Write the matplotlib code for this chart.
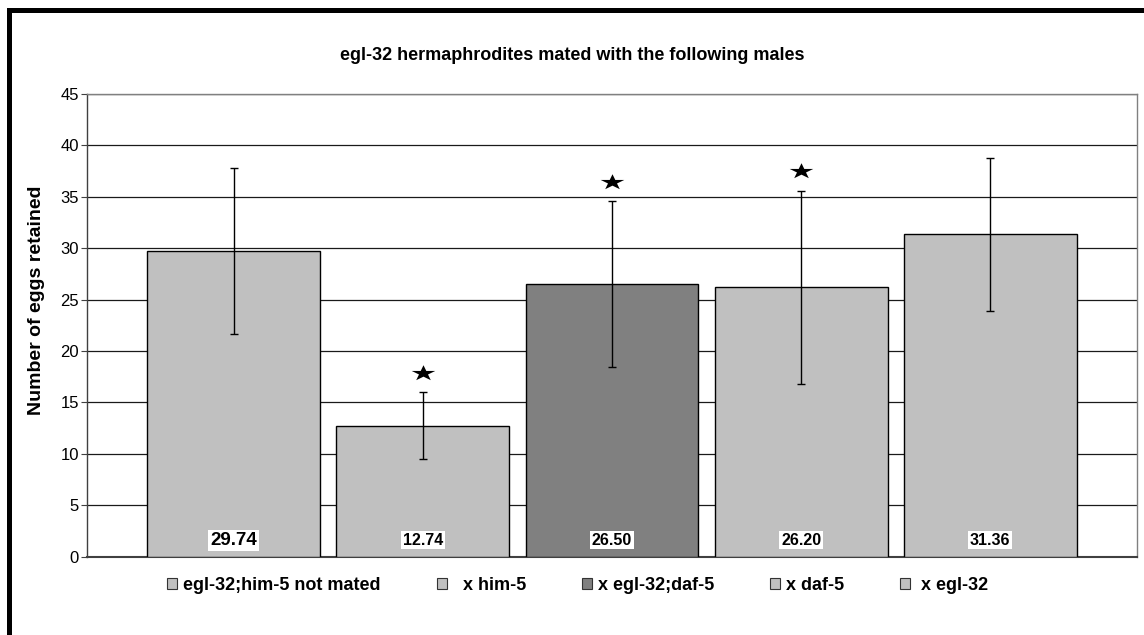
import matplotlib
matplotlib.use("Agg")
import matplotlib.pyplot as plt
from matplotlib.patches import Rectangle, Patch
from matplotlib.path import Path
import numpy as np

plt.rcParams.update({
    "font.family": "sans-serif",
    "font.sans-serif": ["Liberation Sans", "DejaVu Sans"],
})

groups = ["egl-32;him-5 not mated", "x him-5", "x egl-32;daf-5", "x daf-5", "x egl-32"]
legend_labels = ["egl-32;him-5 not mated", "  x him-5", "x egl-32;daf-5", "x daf-5", " x egl-32"]
means = [29.74, 12.74, 26.50, 26.20, 31.36]
errors = [8.1, 3.27, 8.05, 9.38, 7.43]
significant = [False, True, True, True, False]
fills = ["#c0c0c0", "#c0c0c0", "#808080", "#c0c0c0", "#c0c0c0"]

# five-point star, a little wider than tall
_star = Path.unit_regular_star(5, 0.381966)
WIDE_STAR = Path(_star.vertices * [1.5, 1.0], _star.codes)

fig = plt.figure(figsize=(11.44, 6.35), dpi=100)
ax = fig.add_axes([0.0763, 0.1233, 0.9173, 0.7287])

x = np.arange(len(means))
ax.bar(x, means, width=0.914, color=fills, edgecolor="black", linewidth=1.0, zorder=3)
ax.errorbar(x, means, yerr=errors, fmt="none", ecolor="black", elinewidth=1.0,
            capsize=3, capthick=1.0, zorder=4)

# value labels sit at the foot of each bar on a white patch
for i, (xi, m) in enumerate(zip(x, means)):
    ax.text(xi, 1.6, f"{m:.2f}", ha="center", va="center", weight="bold",
            fontsize=13.5 if i == 0 else 11.5, zorder=5,
            bbox=dict(boxstyle="square,pad=0.1", fc="white", ec="none"))

# stars over the significant groups
for xi, m, e, s in zip(x, means, errors, significant):
    if s:
        ax.plot(xi, m + e + 1.9, marker=WIDE_STAR, color="black", markersize=17,
                markeredgewidth=0, zorder=5)

ax.set_xlim(-0.774, 4.774)
ax.set_ylim(0, 45)
ax.set_yticks(range(0, 46, 5))
ax.set_xticks([])
ax.yaxis.grid(True, color="#1a1a1a", linewidth=0.9, zorder=0)
ax.set_axisbelow(True)
for s in ax.spines.values():
    s.set_color("#808080")
    s.set_linewidth(1.0)
ax.spines["left"].set_color("#404040")
ax.spines["bottom"].set_color("#404040")
ax.spines["bottom"].set_linewidth(1.5)
ax.tick_params(axis="y", length=4, width=0.8, color="#404040", labelsize=12, pad=2)
ax.set_ylabel("Number of eggs retained", fontsize=14, weight="bold")
ax.yaxis.set_label_coords(-0.040, 0.555)

fig.text(0.5, 1 - 56 / 635, "egl-32 hermaphrodites mated with the following males",
         ha="center", va="center", fontsize=13, weight="bold")

handles = [Patch(facecolor=c, edgecolor="#333333", linewidth=0.8) for c in fills]
fig.legend(handles, legend_labels, loc="center", bbox_to_anchor=(0.505, 1 - 585 / 635),
           ncol=5, frameon=False, handlelength=0.55, handleheight=0.55,
           handletextpad=0.33, columnspacing=3.1,
           prop=dict(weight="bold", size=13))

# thick outer frame (runs off the right and bottom)
fig.add_artist(Rectangle((9.3 / 1144, -0.05), 1.2, 1 - 9.6 / 635 + 0.05,
                         transform=fig.transFigure, fill=False, edgecolor="black",
                         linewidth=3.6, clip_on=False))

fig.savefig("out.png", dpi=100)
